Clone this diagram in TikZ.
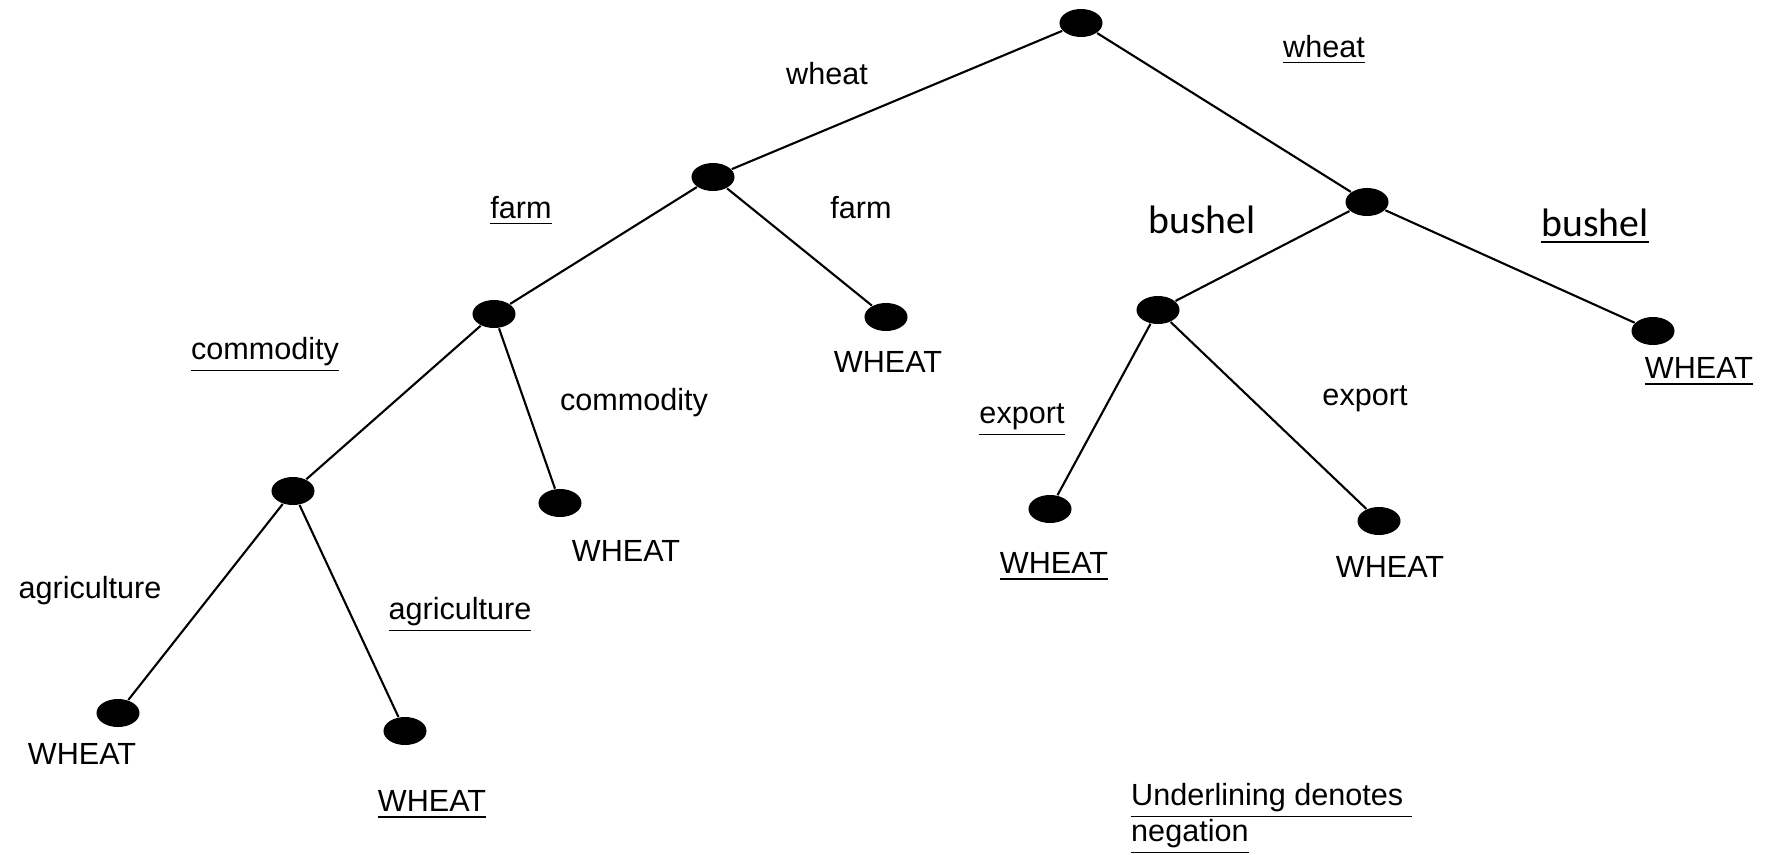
\documentclass[tikz,border=0pt]{standalone}
\usepackage{fontspec}
\setmainfont{Liberation Sans}
\newfontfamily\calib{Carlito}
\usetikzlibrary{shapes,positioning}

\begin{document}
\begin{tikzpicture}[x=0.01cm, y=-0.01cm]
            \tikzstyle{dot} = [ellipse, fill=black, inner sep=0pt, minimum width=0.43cm, minimum height=0.28cm]
            \tikzstyle{edge} = [line width=0.6pt, black]
            \tikzstyle{lbl} = [font=\fontsize{8.7}{10}\selectfont, inner sep=1pt]
            \tikzstyle{neglbl} = [lbl, yshift=-1.4pt]
            \tikzstyle{biglbl} = [font=\calib\fontsize{11.3}{13}\selectfont, inner sep=1pt]

            \useasboundingbox (0,0) rectangle (1769,854);

            % tree nodes
            \node [dot] (root) at (1081,23) {};
            \node [dot] (wh) at (713,177) {};
            \node [dot] (nwh) at (1367,202) {};
            \node [dot] (farm) at (494,314) {};
            \node [dot] (farmleaf) at (886,317) {};
            \node [dot] (bush) at (1158,310) {};
            \node [dot] (nbushleaf) at (1653,331) {};
            \node [dot] (comm) at (293,491) {};
            \node [dot] (commleaf) at (560,503) {};
            \node [dot] (nexpleaf) at (1050,509) {};
            \node [dot] (expleaf) at (1379,521) {};
            \node [dot] (agrleaf) at (118,713) {};
            \node [dot] (nagrleaf) at (405,731) {};

            \draw [edge] (root) -- (wh);
            \draw [edge] (root) -- (nwh);
            \draw [edge] (wh) -- (farm);
            \draw [edge] (wh) -- (farmleaf);
            \draw [edge] (nwh) -- (bush);
            \draw [edge] (nwh) -- (nbushleaf);
            \draw [edge] (farm) -- (comm);
            \draw [edge] (farm) -- (commleaf);
            \draw [edge] (bush) -- (nexpleaf);
            \draw [edge] (bush) -- (expleaf);
            \draw [edge] (comm) -- (agrleaf);
            \draw [edge] (comm) -- (nagrleaf);

            % edge labels
            \node [lbl] (lwheat) at (827,74) {wheat};
            \node [neglbl] (lnwheat) at (1324,45) {\underline{wheat}};
            \node [neglbl] (lnfarm) at (521,206) {\underline{farm}};
            \node [lbl] (lfarm) at (861,208) {farm};
            \node [biglbl] (lbushel) at (1202,220) {bushel};
            \node [biglbl, yshift=-1pt] (lnbushel) at (1595,223) {\underline{bushel}};
            \node [neglbl] (lncomm) at (265,350) {\underline{commodity}};
            \node [lbl] (lcomm) at (634,403) {commodity};
            \node [neglbl] (lnexport) at (1022,415) {\underline{export}};
            \node [lbl] (lexport) at (1365,399) {export};
            \node [lbl] (lagr) at (90,591) {agriculture};
            \node [neglbl] (lnagr) at (460,610) {\underline{agriculture}};

            % leaf labels
            \node [lbl] (tfarm) at (888,362) {WHEAT};
            \node [neglbl] (tnbushel) at (1699,367) {\underline{WHEAT}};
            \node [lbl] (tcomm) at (626,551) {WHEAT};
            \node [neglbl] (tnexport) at (1054,562) {\underline{WHEAT}};
            \node [lbl] (texport) at (1390,567) {WHEAT};
            \node [lbl] (tagr) at (82,754) {WHEAT};
            \node [neglbl] (tnagr) at (432,800) {\underline{WHEAT}};

            % note
            \node [lbl, anchor=base west] (note) at (1127,805) {\underline{Underlining denotes\ }};
            \node [lbl, anchor=base west] (note2) at (1127,841) {\underline{negation}};
        \end{tikzpicture}
\end{document}
